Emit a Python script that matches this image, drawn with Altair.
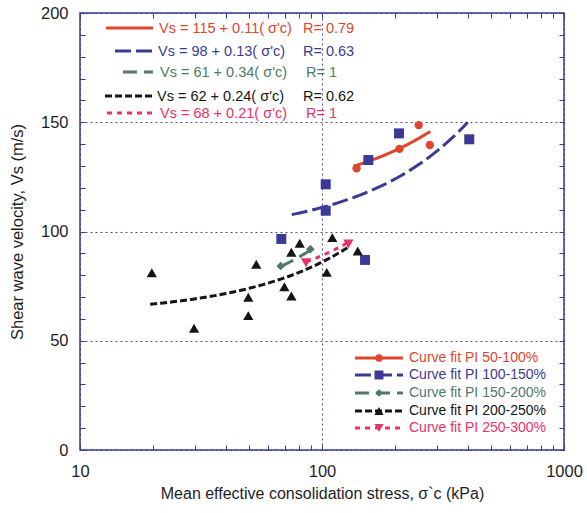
import altair as alt
import numpy as np
import pandas as pd

# ---- data -------------------------------------------------------------
groups = ["PI 50-100%", "PI 100-150%", "PI 150-200%", "PI 200-250%", "PI 250-300%"]

# curve fits: Vs = a + b * sigma'c
fit_a = [115, 98, 61, 62, 68]
fit_b = [0.11, 0.13, 0.34, 0.24, 0.21]
fit_r = ["0.79", "0.63", "1", "0.62", "1"]
fit_lo = [135, 75, 67.5, 19.5, 86]
fit_hi = [280, 400, 89.5, 130, 128.5]

# measured points: mean effective consolidation stress (kPa), Vs (m/s)
stress_1 = [139, 209, 251, 279]
vs_1 = [128.9, 137.8, 148.7, 139.6]
stress_2 = [67.9, 103.6, 103.6, 150.6, 155.4, 208, 406]
vs_2 = [96.6, 121.6, 109.5, 87.0, 132.7, 144.9, 142.2]
stress_3 = [67.5, 89.5]
vs_3 = [84.2, 91.9]
stress_4 = [19.8, 29.6, 49.6, 49.6, 53.5, 69.9, 74.7, 74.7, 80.9, 104.6, 110.3, 140.5]
vs_4 = [81.1, 55.7, 61.5, 69.9, 85.0, 74.7, 70.5, 90.5, 94.6, 81.3, 97.2, 91.1]
stress_5 = [85.9, 128.5]
vs_5 = [85.7, 94.3]

stress = [stress_1, stress_2, stress_3, stress_4, stress_5]
vs = [vs_1, vs_2, vs_3, vs_4, vs_5]

x_major = [10, 100, 1000]
x_minor = [10, 20, 30, 40, 50, 60, 70, 80, 90, 100,
           200, 300, 400, 500, 600, 700, 800, 900, 1000]
y_major = [0, 50, 100, 150, 200]
y_minor = list(range(0, 201, 10))

# ---- styling ----------------------------------------------------------
W, H = 484, 437
FONT = "Liberation Sans"
NAVY = "#3b3b8f"
colors = ["#e0462e", "#3a3a96", "#4f7a6a", "#151515", "#ea3169"]
dashes = [[1, 0], [16, 5], [14, 7], [7, 3], [5, 5]]
shapes = ["circle", "square", "diamond", "triangle-up", "triangle-down"]
sizes = [70, 100, 75, 105, 105]

# equation block (pixel layout inside plot)
eq_y = [16, 39, 60, 84, 101]
eq_x0 = [26, 35, 43, 25, 27]
eq_x1 = 73
eq_tx = [79, 78, 80, 77, 80]
eq_rx = [223, 223, 226, 223, 226]

# key block (pixel layout inside plot)
key_y = [345, 362, 380, 398, 415]
key_x0, key_x1, key_mx, key_tx = 275, 323, 299, 329

x_scale = alt.Scale(type="log", domain=[10, 1000], nice=False)
y_scale = alt.Scale(domain=[0, 200], nice=False, zero=False)

grid_kw = dict(gridColor=NAVY, gridDash=[2, 3], gridWidth=1, gridOpacity=0.9)
lab_kw = dict(labelFont=FONT, labelFontSize=16.5, labelColor="#1e1e1e",
              labelFlush=False, labelOverlap=False,
              titleFont=FONT, titleFontWeight="normal", titleColor="#1e1e1e")

x_axes = [
    alt.Axis(orient="bottom", values=x_major, format="d", grid=True, ticks=False,
             tickSize=0, domain=False, labelPadding=13, titlePadding=6,
             titleFontSize=16,
             title="Mean effective consolidation stress, \u03c3`c (kPa)",
             **grid_kw, **lab_kw),
    alt.Axis(orient="top", offset=-H, values=x_minor, labels=False, grid=False,
             domain=False, ticks=True, tickSize=5, tickColor=NAVY, title=None),
    alt.Axis(orient="bottom", offset=-H, values=x_minor, labels=False, grid=False,
             domain=False, ticks=True, tickSize=5, tickColor=NAVY, title=None),
]
y_axes = [
    alt.Axis(orient="left", values=y_major, grid=True, ticks=False, tickSize=0,
             domain=False, labelPadding=12, titlePadding=15, titleFontSize=16.5,
             title="Shear wave velocity, Vs (m/s)", **grid_kw, **lab_kw),
    alt.Axis(orient="right", offset=-W, values=y_minor, labels=False, grid=False,
             domain=False, ticks=True, tickSize=5, tickColor=NAVY, title=None),
    alt.Axis(orient="left", offset=-W, values=y_minor, labels=False, grid=False,
             domain=False, ticks=True, tickSize=5, tickColor=NAVY, title=None),
]

layers = []

# fitted curves (drawn from the stated equations)
for i in range(5):
    s = np.geomspace(fit_lo[i], fit_hi[i], 80)
    df = pd.DataFrame({"stress": s, "vs": fit_a[i] + fit_b[i] * s})
    xa = x_axes[i] if i < 3 else None
    ya = y_axes[i] if i < 3 else None
    layers.append(
        alt.Chart(df).mark_line(color=colors[i], strokeDash=dashes[i],
                                strokeWidth=3, strokeCap="butt")
        .encode(x=alt.X("stress:Q", scale=x_scale, axis=xa),
                y=alt.Y("vs:Q", scale=y_scale, axis=ya))
    )

# measured points
for i in range(5):
    df = pd.DataFrame({"stress": stress[i], "vs": vs[i]})
    layers.append(
        alt.Chart(df).mark_point(shape=shapes[i], filled=True, size=sizes[i],
                                 color=colors[i], opacity=1, strokeWidth=0)
        .encode(x=alt.X("stress:Q", scale=x_scale, axis=None),
                y=alt.Y("vs:Q", scale=y_scale, axis=None))
    )

one = pd.DataFrame({"k": [0]})

# equation block
for i in range(5):
    label = f"Vs = {fit_a[i]} + {fit_b[i]:.2f}( \u03c3'c)"
    layers.append(
        alt.Chart(one).mark_rule(color=colors[i], strokeDash=dashes[i],
                                 strokeWidth=3, strokeCap="butt")
        .encode(x=alt.value(eq_x0[i]), x2=alt.value(eq_x1), y=alt.value(eq_y[i] - 1))
    )
    layers.append(
        alt.Chart(one).mark_text(text=label, align="left", baseline="middle",
                                 font=FONT, fontSize=14.5, color=colors[i])
        .encode(x=alt.value(eq_tx[i]), y=alt.value(eq_y[i]))
    )
    layers.append(
        alt.Chart(one).mark_text(text=f"R= {fit_r[i]}", align="left",
                                 baseline="middle", font=FONT, fontSize=14.5,
                                 color=colors[i])
        .encode(x=alt.value(eq_rx[i]), y=alt.value(eq_y[i]))
    )

# key block
for i in range(5):
    layers.append(
        alt.Chart(one).mark_rule(color=colors[i], strokeDash=dashes[i],
                                 strokeWidth=3, strokeCap="butt")
        .encode(x=alt.value(key_x0), x2=alt.value(key_x1), y=alt.value(key_y[i]))
    )
    layers.append(
        alt.Chart(one).mark_point(shape=shapes[i], filled=True, size=sizes[i] * 0.8,
                                  color=colors[i], opacity=1, strokeWidth=0)
        .encode(x=alt.value(key_mx), y=alt.value(key_y[i]))
    )
    layers.append(
        alt.Chart(one).mark_text(text=f"Curve fit {groups[i]}", align="left",
                                 baseline="middle", font=FONT, fontSize=14,
                                 color=colors[i])
        .encode(x=alt.value(key_tx), y=alt.value(key_y[i]))
    )

chart = (
    alt.layer(*layers)
    .resolve_axis(x="independent", y="independent")
    .properties(width=W, height=H, background="white",
                autosize=alt.AutoSizeParams(type="none"),
                padding={"left": 80, "top": 13, "right": 23, "bottom": 63})
    .configure_view(stroke=NAVY, strokeWidth=1.5)
)

chart.save("out.html", embed_options={"renderer": "svg", "actions": False})
